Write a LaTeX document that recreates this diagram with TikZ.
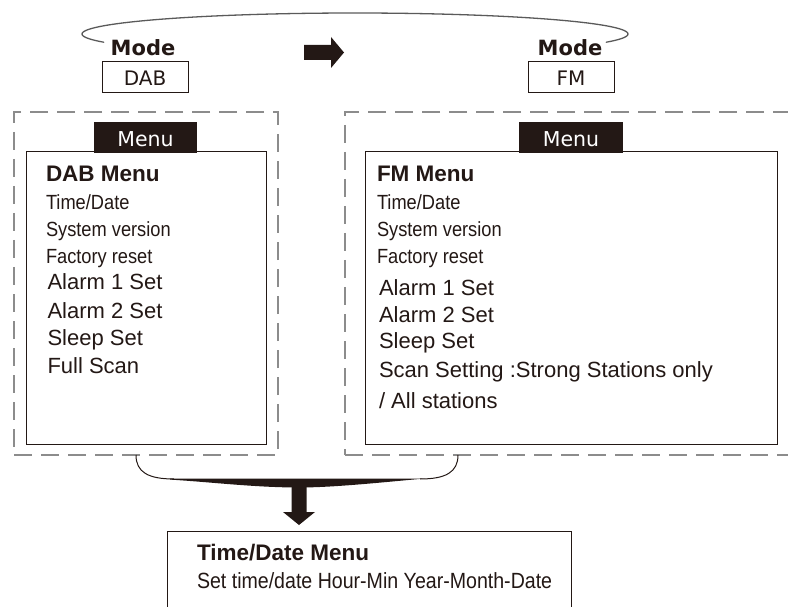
\documentclass[tikz,border=0pt]{standalone}
\usepackage{fontspec}
\setmainfont{Liberation Sans}
\newfontfamily\narrowfont[FakeStretch=0.89]{Liberation Sans}
\newfontfamily\verdfont{DejaVu Sans}
\definecolor{ink}{HTML}{231815}
\definecolor{dashgray}{HTML}{8C8C8C}
\definecolor{loopgray}{HTML}{5A5A5A}

\begin{document}
\begin{tikzpicture}[x=1pt,y=-1pt,
  every node/.style={inner sep=0pt, outer sep=0pt},
  modelabel/.style={font=\verdfont\bfseries\fontsize{21}{25}\selectfont, text=ink, anchor=base},
  modebox/.style={draw=ink, line width=1pt, minimum width=86pt, minimum height=31pt, anchor=north west},
  modetext/.style={font=\verdfont\fontsize{20}{24}\selectfont, text=ink, anchor=base},
  groupbox/.style={draw=dashgray, line width=1.2pt, dash pattern=on 18pt off 9pt, anchor=north west},
  menubox/.style={draw=ink, line width=1pt, anchor=north west, fill=white},
  menutab/.style={fill=ink, minimum height=31pt, anchor=north west},
  tabtext/.style={font=\verdfont\fontsize{20.5}{24}\selectfont, text=white, anchor=base},
  heading/.style={font=\bfseries\fontsize{22.5}{27}\selectfont, text=ink, anchor=base west},
  narrowitem/.style={font=\narrowfont\fontsize{20.5}{24}\selectfont, text=ink, anchor=base west},
  item/.style={font=\fontsize{22}{26}\selectfont, text=ink, anchor=base west},
  bottomitem/.style={font=\narrowfont\fontsize{22}{26}\selectfont, text=ink, anchor=base west}
]
\useasboundingbox (0,0) rectangle (788,607);
\clip (0,0) rectangle (788,607);

% mode switch: open loop over the top with the selector arrow
\draw[loopgray, line width=1.3pt, line cap=round]
  plot[domain=157:383, samples=90, smooth] ({355+273*cos(\x)}, {34+21*sin(\x)});
\node[modelabel] (modeL) at (143,56) {Mode};
\node[modelabel] (modeR) at (570,56) {Mode};
\node[modebox] (dab) at (102,62) {};
\node[modetext] (dabtxt) at (145,86) {DAB};
\node[modebox] (fm) at (528,62) {};
\node[modetext] (fmtxt) at (571,86) {FM};
\fill[ink] (304,45) -- (331,45) -- (331,37) -- (344,52.5) -- (331,68) -- (331,60) -- (304,60) -- cycle;

% dashed groups
\node[groupbox, minimum width=264pt, minimum height=343pt] (groupL) at (14,112) {};
\node[groupbox, minimum width=470pt, minimum height=343pt] (groupR) at (345,112) {};

% menu panels
\node[menubox, minimum width=240pt, minimum height=292pt] (panelL) at (26,152) {};
\node[menubox, minimum width=412pt, minimum height=292pt] (panelR) at (365,152) {};
\node[menutab, minimum width=103pt] (tabL) at (94,122) {};
\node[tabtext] (tabLtxt) at (145.5,146.5) {Menu};
\node[menutab, minimum width=104pt] (tabR) at (519,122) {};
\node[tabtext] (tabRtxt) at (571,146.5) {Menu};

% DAB menu entries
\node[heading]    (dab0) at (46,182) {DAB Menu};
\node[narrowitem] (dab1) at (46,210) {Time/Date};
\node[narrowitem] (dab2) at (46,236.5) {System version};
\node[narrowitem] (dab3) at (46,263) {Factory reset};
\node[item]       (dab4) at (47.5,290) {Alarm 1 Set};
\node[item]       (dab5) at (47.5,318) {Alarm 2 Set};
\node[item]       (dab6) at (47.5,345) {Sleep Set};
\node[item]       (dab7) at (47.5,373) {Full Scan};

% FM menu entries
\node[heading]    (fm0) at (377,182) {FM Menu};
\node[narrowitem] (fm1) at (377,210) {Time/Date};
\node[narrowitem] (fm2) at (377,236.5) {System version};
\node[narrowitem] (fm3) at (377,263) {Factory reset};
\node[item]       (fm4) at (379,295) {Alarm 1 Set};
\node[item]       (fm5) at (379,322) {Alarm 2 Set};
\node[item]       (fm6) at (379,348.5) {Sleep Set};
\node[item]       (fm7) at (379,377) {Scan Setting :Strong Stations only};
\node[item]       (fm8) at (379,408) {/ All stations};

% brace joining both groups and arrow down
\coordinate (braceL) at (136,455);
\coordinate (braceR) at (458,455);
\draw[ink, line width=1pt] (braceL) .. controls (136,472) and (148,479) .. (174,479);
\draw[ink, line width=1pt] (braceR) .. controls (458,472) and (446,479) .. (420,479);
\fill[ink] (170,478.5) -- (425,478.5)
  .. controls (385,482) and (335,487.5) .. (299,487.5)
  .. controls (255,487.5) and (210,482) .. (170,479.6) -- cycle;
\fill[ink] (291.5,486) -- (306.5,486) -- (306.5,512) -- (315,512) -- (299,525)
  -- (283,512) -- (291.5,512) -- cycle;

% time/date panel
\node[menubox, minimum width=404pt, minimum height=110pt] (tdpanel) at (167,531) {};
\node[heading]    (td0) at (197,560) {Time/Date Menu};
\node[bottomitem] (td1) at (197,588) {Set time/date Hour-Min Year-Month-Date};
\end{tikzpicture}
\end{document}
